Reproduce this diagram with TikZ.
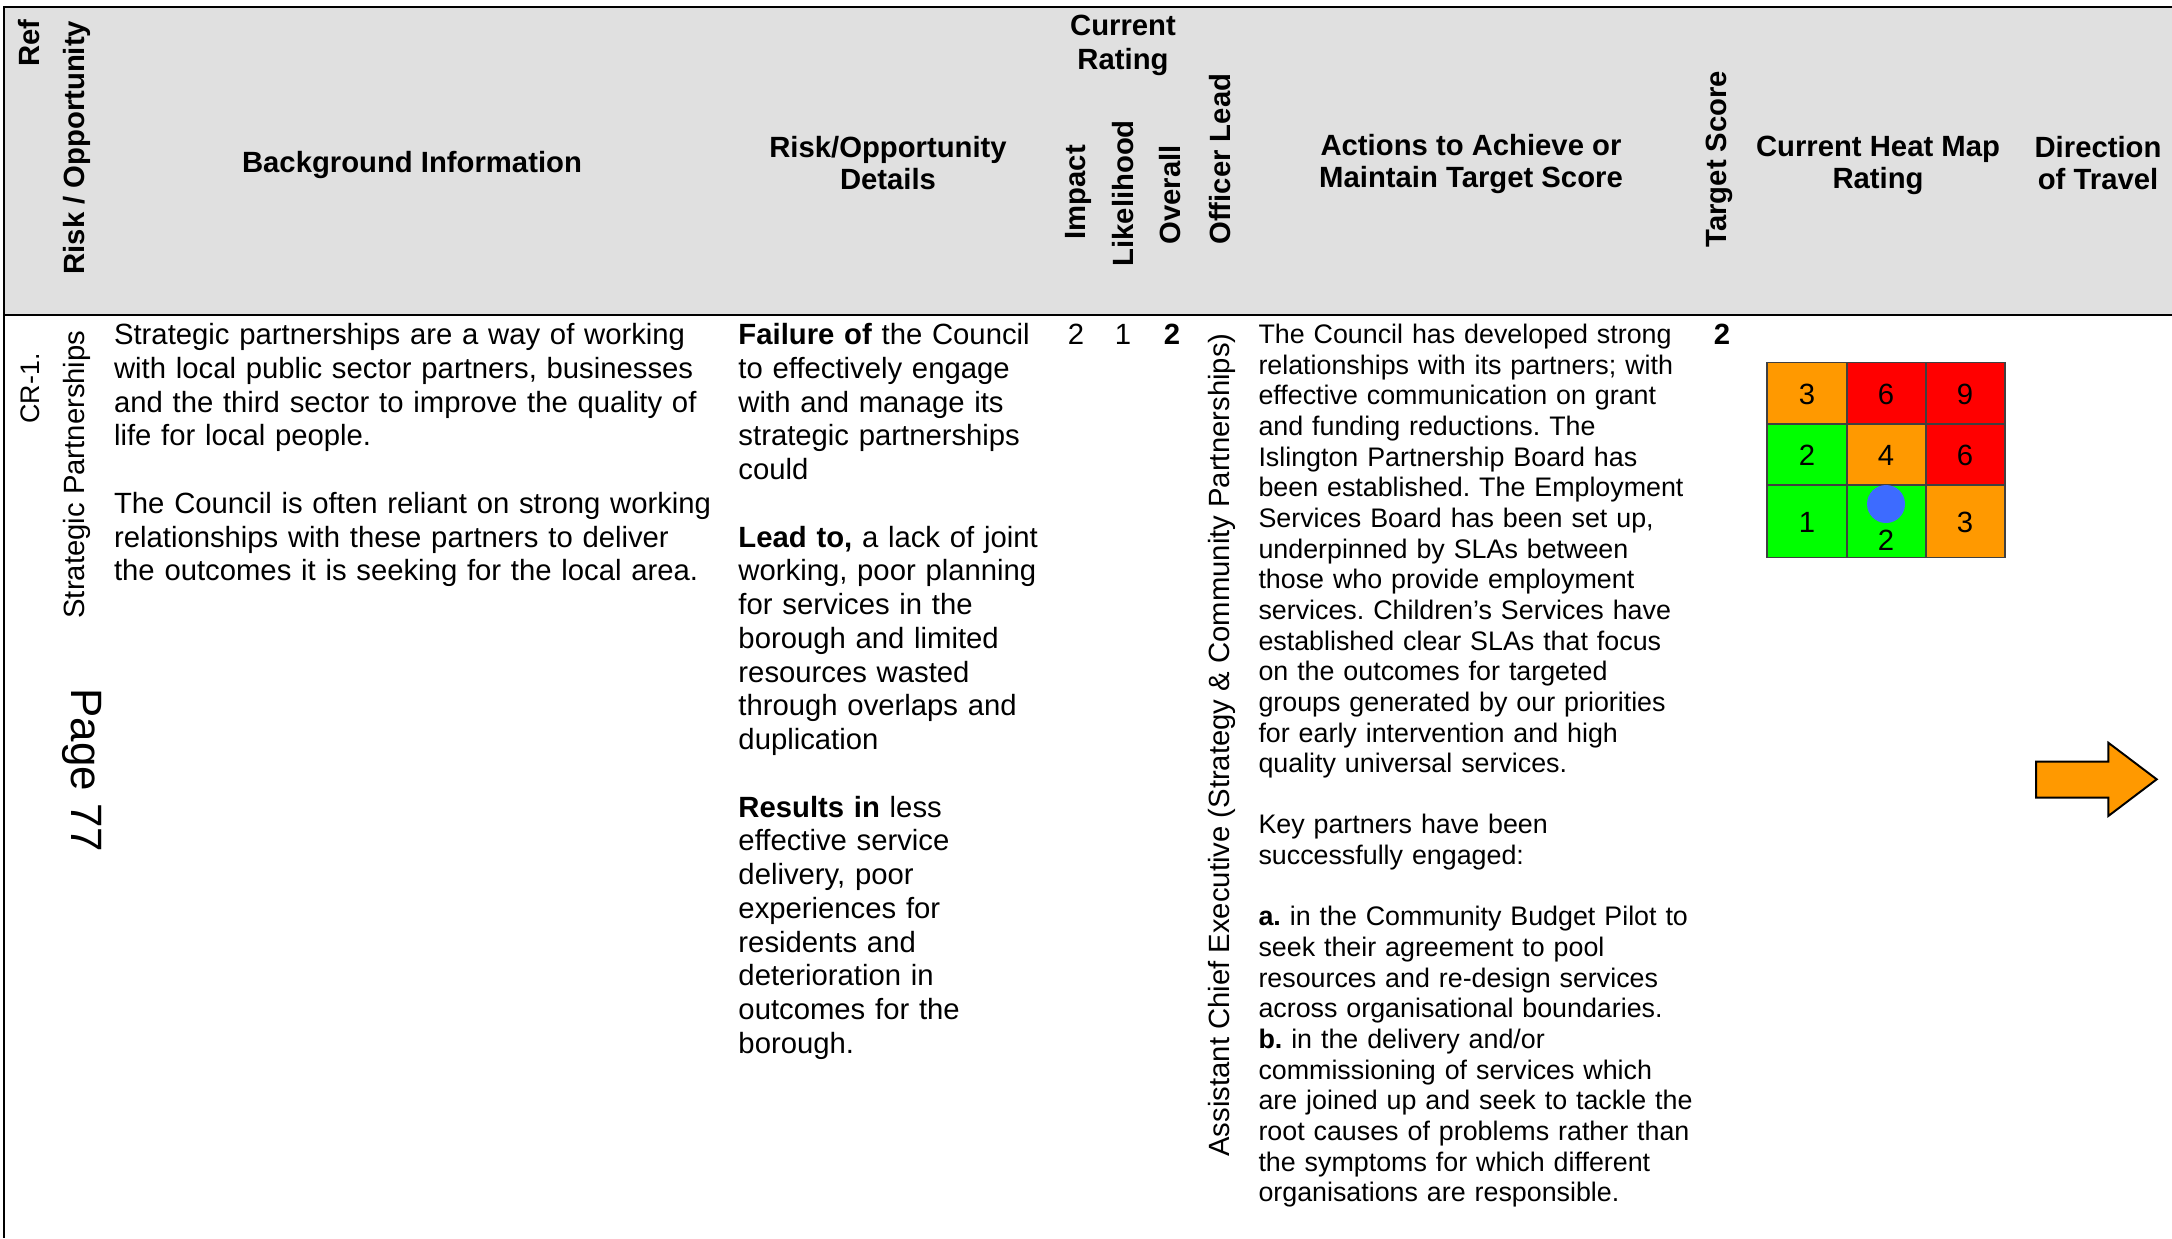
\documentclass[tikz,border=0pt]{standalone}
\usepackage{fontspec}
\setmainfont{Liberation Sans}
\definecolor{hdrgray}{RGB}{224,224,224}
\definecolor{hmorange}{RGB}{255,153,0}
\definecolor{hmred}{RGB}{255,0,0}
\definecolor{hmgreen}{RGB}{0,255,0}
\definecolor{hmblue}{RGB}{61,107,255}
\tikzset{
  hdr/.style={font=\bfseries\fontsize{12}{13.1}\selectfont, inner sep=0pt, align=center},
  vhdr/.style={font=\bfseries\fontsize{12}{13.1}\selectfont, inner sep=0pt, rotate=90, anchor=west},
  body/.style={font={\fontsize{12}{13.84}\selectfont\parindent=0pt\frenchspacing}, inner sep=0pt, anchor=north west, align=left},
  actbody/.style={font={\fontsize{11}{12.57}\selectfont\parindent=0pt\frenchspacing}, inner sep=0pt, anchor=north west, align=left},
  num/.style={font=\fontsize{12}{13.84}\selectfont, inner sep=0pt, anchor=base},
  hmnum/.style={font=\fontsize{12}{13.84}\selectfont, inner sep=0pt},
  gridln/.style={draw=black!75, line width=0.5pt},
  frameline/.style={line width=0.95pt, black},
}
\begin{document}
\begin{tikzpicture}[x=0.41pt,y=-0.41pt]
\useasboundingbox (0,0) rectangle (2172,1238);
\fill[white] (0,0) rectangle (2172,1238);
% header band
\fill[hdrgray] (4,7) rectangle (2172,315);
\draw[frameline] (2172,7) -- (4,7) -- (4,1238);
\draw[frameline] (4,315) -- (2172,315);

% header texts
\node[vhdr] (hRef) at (29,67) {Ref};
\node[vhdr] (hRisk) at (77,275) {Risk / Opportunity};
\node[hdr] (hBg) at (412,164.5) {Background Information};
\node[hdr] (hDet) at (888,163) {Risk/Opportunity\\Details};
\node[hdr, font=\bfseries\fontsize{12}{14}\selectfont] (hCur) at (1123,45.5) {Current\\Rating};
\node[vhdr] (hImp) at (1078,240) {Impact};
\node[vhdr] (hLik) at (1123,267) {Likelihood};
\node[vhdr] (hOve) at (1170,245) {Overall};
\node[vhdr] (hOff) at (1220,245) {Officer Lead};
\node[hdr] (hAct) at (1471,164) {Actions to Achieve or\\Maintain Target Score};
\node[vhdr] (hTgt) at (1719,248) {Target Score};
\node[hdr] (hHeat) at (1878,165) {Current Heat Map\\Rating};
\node[hdr] (hDir) at (2098,163) {Direction\\of Travel};

% left column
\node[font=\fontsize{11}{12.6}\selectfont, inner sep=0pt, rotate=90, anchor=west] (ref) at (30,424) {CR-1.};
\node[font=\fontsize{12}{13.84}\selectfont, inner sep=0pt, rotate=90, anchor=west] (title) at (77,619) {Strategic Partnerships};
\node[font=\fontsize{18}{21}\selectfont, inner sep=0pt, rotate=-90, anchor=west] (page) at (82,688) {Page 77};

% background
\node[body, text width=280pt] (bg) at (113.6,320.4) {\noindent\strut Strategic partnerships are a way of working\\
with local public sector partners, businesses\\
and the third sector to improve the quality of\\
life for local people.\\[\baselineskip]
The Council is often reliant on strong working\\
relationships with these partners to deliver\\
the outcomes it is seeking for the local area.};

% details
\node[body, text width=150pt] (det) at (738,320.4) {\noindent\strut\textbf{Failure of} the Council\\
to effectively engage\\
with and manage its\\
strategic partnerships\\
could\\[\baselineskip]
\textbf{Lead to,} a lack of joint\\
working, poor planning\\
for services in the\\
borough and limited\\
resources wasted\\
through overlaps and\\
duplication\\[\baselineskip]
\textbf{Results in} less\\
effective service\\
delivery, poor\\
experiences for\\
residents and\\
deterioration in\\
outcomes for the\\
borough.};

% ratings
\node[num] (rImp) at (1076,344) {2};
\node[num] (rLik) at (1123,344) {1};
\node[num, font=\bfseries\fontsize{12}{13.84}\selectfont] (rOve) at (1172,344) {2};

% officer lead
\node[font=\fontsize{12}{13.84}\selectfont, inner sep=0pt, rotate=90, anchor=west] (lead) at (1222,1157) {Assistant Chief Executive (Strategy \& Community Partnerships)};

% actions
\node[actbody, text width=210pt] (act) at (1258,321.5) {\noindent\strut The Council has developed strong\\
relationships with its partners; with\\
effective communication on grant\\
and funding reductions. The\\
Islington Partnership Board has\\
been established. The Employment\\
Services Board has been set up,\\
underpinned by SLAs between\\
those who provide employment\\
services. Children’s Services have\\
established clear SLAs that focus\\
on the outcomes for targeted\\
groups generated by our priorities\\
for early intervention and high\\
quality universal services.\\[\baselineskip]
Key partners have been\\
successfully engaged:\\[\baselineskip]
\textbf{a.} in the Community Budget Pilot to\\
seek their agreement to pool\\
resources and re-design services\\
across organisational boundaries.\\
\textbf{b.} in the delivery and/or\\
commissioning of services which\\
are joined up and seek to tackle the\\
root causes of problems rather than\\
the symptoms for which different\\
organisations are responsible.};

% target score
\node[num, font=\bfseries\fontsize{12}{13.84}\selectfont] (tgt) at (1722,344) {2};

% heat map
\fill[hmorange] (1767,362.7) rectangle (1847,424);
\fill[hmred] (1847,362.7) rectangle (1926,424);
\fill[hmred] (1926,362.7) rectangle (2005,424);
\fill[hmgreen] (1767,424) rectangle (1847,485);
\fill[hmorange] (1847,424) rectangle (1926,485);
\fill[hmred] (1926,424) rectangle (2005,485);
\fill[hmgreen] (1767,485) rectangle (1847,557.3);
\fill[hmgreen] (1847,485) rectangle (1926,557.3);
\fill[hmorange] (1926,485) rectangle (2005,557.3);
\draw[gridln] (1767,362.7) rectangle (2005,557.3);
\draw[gridln] (1847,362.7) -- (1847,557.3) (1926,362.7) -- (1926,557.3)
  (1767,424) -- (2005,424) (1767,485) -- (2005,485);
\fill[hmblue] (1886,504) circle [radius=19];
\node[hmnum] (m13) at (1807,394) {3};
\node[hmnum] (m16) at (1886,394) {6};
\node[hmnum] (m19) at (1965,394) {9};
\node[hmnum] (m22) at (1807,455) {2};
\node[hmnum] (m24) at (1886,455) {4};
\node[hmnum] (m26) at (1965,455) {6};
\node[hmnum] (m31) at (1807,522) {1};
\node[hmnum] (m32) at (1886,540) {2};
\node[hmnum] (m33) at (1965,522) {3};

% direction arrow
\draw[fill=hmorange, draw=black, line width=0.8pt, line join=miter]
  (2036,761.7) -- (2108.3,761.7) -- (2108.3,742.7) -- (2156.7,779.3) -- (2108.3,816) -- (2108.3,797.7) -- (2036,797.7) -- cycle;
\end{tikzpicture}
\end{document}
